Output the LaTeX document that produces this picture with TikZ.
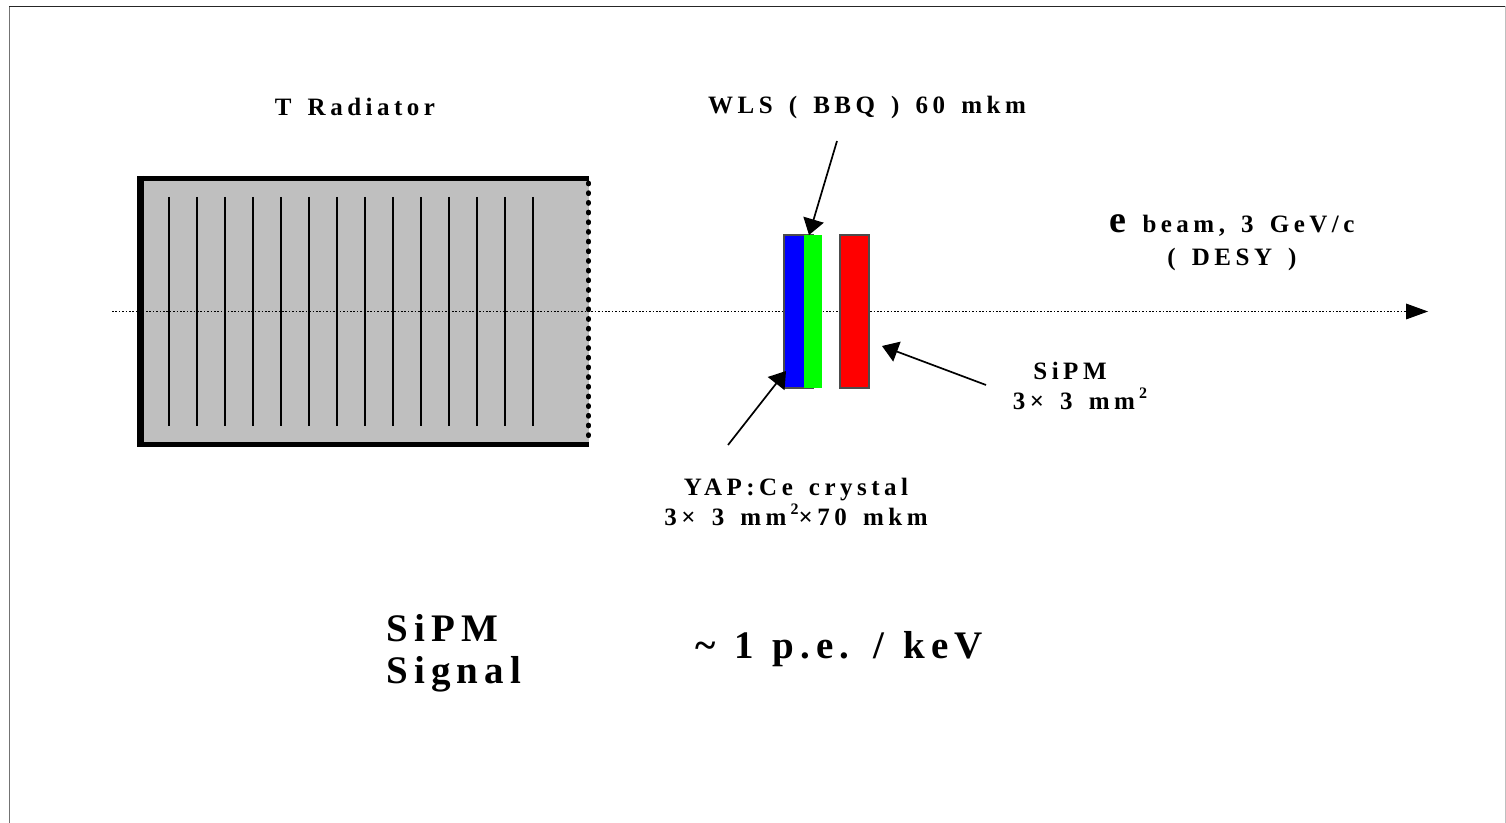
\documentclass[tikz,border=0pt]{standalone}
\usepackage{fontspec}
\setmainfont{Liberation Serif}
\newfontfamily\spacedfont[LetterSpace=18, WordSpace=1.5]{Liberation Serif}
\newfontfamily\widefont[LetterSpace=15.5, WordSpace=1.2]{Liberation Serif}
\newcommand{\sqsup}{\,\raisebox{0.45em}{\fontsize{8}{8}\selectfont 2}}
\usetikzlibrary{arrows.meta}
\tikzset{
    caption/.style={font=\spacedfont\bfseries\fontsize{12.5}{15}\selectfont, align=center, inner sep=0pt},
    bigcaption/.style={font=\widefont\bfseries\fontsize{19.5}{21}\selectfont, align=left, inner sep=0pt},
    pointer/.style={line width=0.85pt, -{Triangle[length=8pt, width=10.5pt]}},
    plate/.style={draw=black!70, thick},
}
\begin{document}
\begin{tikzpicture}[x=0.5pt, y=-0.5pt]
    \useasboundingbox (0, 0) rectangle (1506, 823);
    \draw[black!55, thin] (9, 823) -- (9, 6);
    \draw[black!85, thin] (9, 6) -- (1505, 6);
    \draw[black!25, thin] (1505, 6) -- (1505, 823);

    % radiator
    \fill[black!25] (140, 178) rectangle (589, 444);
    \draw[line width=2.5pt] (589, 178.5) -- (137, 178.5);
    \draw[line width=2.5pt] (589, 444.5) -- (137, 444.5);
    \draw[line width=3.3pt] (140.5, 176) -- (140.5, 447);
    \draw[line width=2.4pt, line cap=round, dash pattern=on 0.5pt off 4.34pt] (588.5, 183) -- (588.5, 444);
    \foreach \i in {0, ..., 13}
        \draw[line width=1pt] (168.5 + 28 * \i, 197) -- (168.5 + 28 * \i, 426);

    % beam
    \coordinate (beamstart) at (112, 311.5);
    \coordinate (beamend) at (1428, 311.5);
    \draw[line width=0.55pt, dash pattern=on 0.8pt off 0.9pt] (beamstart) -- (1406, 311.5);
    \fill (1406, 303.5) -- (beamend) -- (1406, 319.5) -- cycle;

    % crystal, shifter, SiPM
    \draw[plate, fill=blue] (784, 235) rectangle (813, 388);
    \fill[green] (804, 235) rectangle (822, 388);
    \draw[plate, fill=red] (840, 235) rectangle (869, 388);

    % labels
    \node[caption] (radiator) at (355, 107) {T Radiator};
    \node[caption] (wls) at (867, 107) {WLS ( BBQ ) 60 mkm};
    \node[caption, font=\spacedfont\bfseries\fontsize{12.5}{16.5}\selectfont] (beam) at (1232, 243) {{\fontsize{19}{15}\selectfont e} beam, 3 GeV/c\\( DESY )};
    \node[caption] (sipm) at (1080, 386) {SiPM\hspace*{10pt}\\3× 3 mm\sqsup};
    \node[caption] (yap) at (796, 502) {YAP:Ce crystal\\3× 3 mm\sqsup×70 mkm};
    \node[bigcaption] (signal) at (454, 653) {SiPM\\Signal};
    \node[font=\widefont\bfseries\fontsize{19.5}{21}\selectfont, inner sep=0pt] (yield) at (839, 649) {\textasciitilde{} 1 p.e. / keV};

    % pointers
    \coordinate (wlsfrom) at (837, 141);
    \coordinate (wlsto) at (809, 235);
    \coordinate (sipmfrom) at (986, 385);
    \coordinate (sipmto) at (882, 346);
    \coordinate (yapfrom) at (728, 445);
    \coordinate (yapto) at (786, 371);
    \draw[pointer] (wlsfrom) -- (wlsto);
    \draw[pointer] (sipmfrom) -- (sipmto);
    \draw[pointer] (yapfrom) -- (yapto);
\end{tikzpicture}
\end{document}
